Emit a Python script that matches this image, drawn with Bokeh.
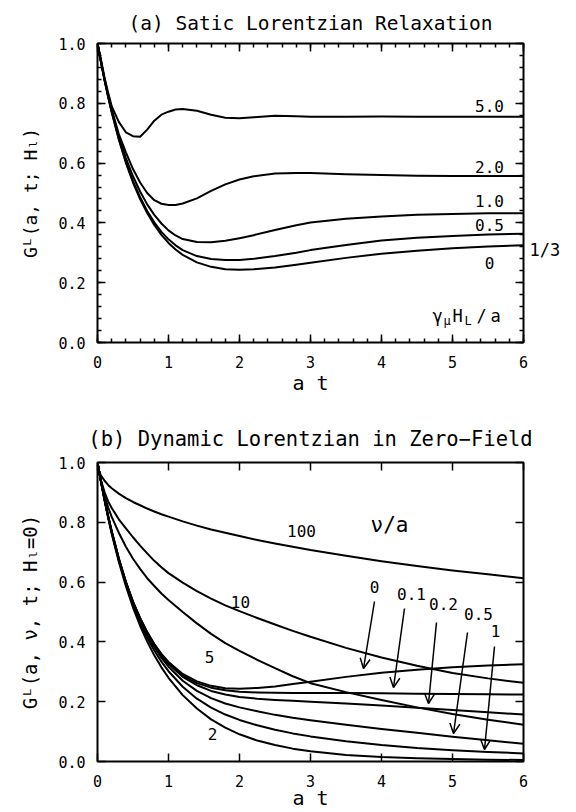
from bokeh.plotting import figure
from bokeh.layouts import column
from bokeh.models import (Range1d, LinearAxis, FixedTicker, Label, Arrow,
                          OpenHead, CustomJSTickFormatter)
from bokeh.embed import file_html
from bokeh.resources import INLINE

FONT = "DejaVu Sans Mono"

# ---------------- axis ticks ----------------
x_ticks = [0, 1, 2, 3, 4, 5, 6]
x_tick_labels = ["0", "1", "2", "3", "4", "5", "6"]
y_ticks = [0.0, 0.2, 0.4, 0.6, 0.8, 1.0]
y_tick_labels = ["0.0", "0.2", "0.4", "0.6", "0.8", "1.0"]

# ---------------- panel (a): static Lorentzian, longitudinal field ----------------
t_a = [0, 0.05, 0.1, 0.15, 0.2, 0.3, 0.4, 0.5, 0.6, 0.7, 0.8, 0.9, 1.0, 1.1, 1.2,
       1.4, 1.6, 1.8, 2.0, 2.2, 2.5, 2.8, 3.0, 3.5, 4.0, 4.5, 5.0, 5.5, 6.0]
ga_0 = [1.0, 0.936, 0.876, 0.821, 0.770, 0.679, 0.601, 0.535, 0.480, 0.433, 0.393, 0.360,
        0.333, 0.311, 0.293, 0.268, 0.253, 0.245, 0.243, 0.245, 0.251, 0.260, 0.267, 0.283,
        0.297, 0.307, 0.315, 0.321, 0.325]
ga_05 = [1.0, 0.937, 0.877, 0.823, 0.772, 0.682, 0.605, 0.540, 0.486, 0.440, 0.402, 0.370,
         0.345, 0.325, 0.309, 0.289, 0.279, 0.276, 0.276, 0.280, 0.289, 0.300, 0.309, 0.326,
         0.341, 0.350, 0.356, 0.361, 0.364]
ga_10 = [1.0, 0.938, 0.879, 0.826, 0.776, 0.690, 0.617, 0.556, 0.505, 0.462, 0.427, 0.398,
         0.375, 0.358, 0.346, 0.336, 0.335, 0.340, 0.349, 0.359, 0.376, 0.392, 0.401, 0.414,
         0.421, 0.427, 0.430, 0.432, 0.432]
ga_20 = [1.0, 0.940, 0.880, 0.828, 0.780, 0.697, 0.636, 0.580, 0.535, 0.500, 0.476, 0.464,
         0.460, 0.460, 0.465, 0.482, 0.507, 0.529, 0.545, 0.556, 0.565, 0.567, 0.567, 0.563,
         0.560, 0.558, 0.557, 0.557, 0.557]
ga_50 = [1.0, 0.945, 0.885, 0.835, 0.790, 0.738, 0.703, 0.690, 0.688, 0.712, 0.742, 0.762,
         0.772, 0.779, 0.781, 0.775, 0.762, 0.752, 0.750, 0.753, 0.758, 0.757, 0.755, 0.755,
         0.756, 0.755, 0.755, 0.755, 0.755]
field_labels = ["5.0", "2.0", "1.0", "0.5", "0"]
asymptote_label = "1/3"

# ---------------- panel (b): dynamic Lorentzian, zero field ----------------
t_b = [0, 0.02, 0.05, 0.1, 0.15, 0.2, 0.3, 0.4, 0.5, 0.6, 0.7, 0.8, 0.9, 1.0, 1.2,
       1.4, 1.6, 1.8, 2.0, 2.25, 2.5, 2.75, 3.0, 3.5, 4.0, 4.5, 5.0, 5.5, 6.0]
gb_100 = [1.0, 0.972, 0.956, 0.939, 0.925, 0.914, 0.896, 0.881, 0.868, 0.857, 0.846, 0.836,
          0.827, 0.819, 0.803, 0.789, 0.776, 0.765, 0.754, 0.741, 0.729, 0.718, 0.707, 0.688,
          0.670, 0.654, 0.639, 0.626, 0.613]
gb_10 = [1.0, 0.974, 0.940, 0.900, 0.870, 0.848, 0.810, 0.780, 0.750, 0.722, 0.696, 0.671,
         0.650, 0.630, 0.598, 0.570, 0.545, 0.522, 0.503, 0.480, 0.458, 0.437, 0.417, 0.380,
         0.348, 0.320, 0.296, 0.278, 0.263]
gb_5 = [1.0, 0.974, 0.937, 0.888, 0.850, 0.818, 0.765, 0.718, 0.678, 0.644, 0.613, 0.587,
        0.562, 0.540, 0.500, 0.462, 0.427, 0.396, 0.370, 0.340, 0.312, 0.285, 0.262, 0.232,
        0.206, 0.181, 0.159, 0.140, 0.123]
gb_0 = [1.0, 0.974, 0.936, 0.876, 0.821, 0.770, 0.679, 0.601, 0.535, 0.480, 0.433, 0.393,
        0.360, 0.333, 0.293, 0.268, 0.253, 0.245, 0.243, 0.246, 0.251, 0.259, 0.267, 0.283,
        0.297, 0.307, 0.315, 0.321, 0.325]
gb_01 = [1.0, 0.974, 0.936, 0.876, 0.821, 0.770, 0.679, 0.600, 0.534, 0.479, 0.432, 0.392,
         0.358, 0.331, 0.288, 0.262, 0.247, 0.238, 0.233, 0.231, 0.230, 0.229, 0.229, 0.229,
         0.228, 0.227, 0.226, 0.225, 0.224]
gb_02 = [1.0, 0.974, 0.936, 0.876, 0.820, 0.769, 0.678, 0.599, 0.532, 0.476, 0.428, 0.388,
         0.354, 0.326, 0.283, 0.255, 0.236, 0.224, 0.216, 0.210, 0.206, 0.203, 0.200, 0.194,
         0.187, 0.180, 0.172, 0.165, 0.157]
gb_05 = [1.0, 0.974, 0.935, 0.875, 0.819, 0.767, 0.676, 0.597, 0.529, 0.472, 0.423, 0.382,
         0.347, 0.317, 0.270, 0.236, 0.212, 0.194, 0.181, 0.168, 0.156, 0.146, 0.138, 0.123,
         0.109, 0.096, 0.083, 0.071, 0.059]
gb_1 = [1.0, 0.974, 0.935, 0.874, 0.818, 0.765, 0.673, 0.593, 0.524, 0.465, 0.414, 0.371,
        0.334, 0.302, 0.250, 0.210, 0.180, 0.157, 0.139, 0.121, 0.106, 0.094, 0.084, 0.068,
        0.055, 0.045, 0.038, 0.032, 0.027]
gb_2 = [1.0, 0.973, 0.934, 0.872, 0.815, 0.762, 0.668, 0.586, 0.515, 0.454, 0.401, 0.355,
        0.315, 0.280, 0.222, 0.177, 0.141, 0.113, 0.091, 0.070, 0.055, 0.043, 0.034, 0.022,
        0.015, 0.011, 0.008, 0.006, 0.005]
rate_line_labels = ["100", "10", "5", "2"]
rate_arrow_labels = ["0", "0.1", "0.2", "0.5", "1"]

# ---------------- layout helpers ----------------
FL, FR = 97, 523
XS = (FR - FL) / 6.0


def px_x(px):
    return (px - FL) / XS


def make_panel(ftop, fbot, x_minor, y_minor, title, title_size, title_standoff,
               ylabel, ylabel_size, xlabel_standoff, right_extra=None):
    p = figure(width=576, height=406, x_range=Range1d(0, 6), y_range=Range1d(0, 1),
               x_axis_type=None, y_axis_type=None, output_backend="svg",
               toolbar_location=None, min_border_left=FL, min_border_right=576 - FR,
               min_border_top=ftop, min_border_bottom=406 - fbot)
    p.outline_line_color = "black"
    p.outline_line_width = 2
    p.background_fill_color = "white"
    p.border_fill_color = "white"
    p.title.text = title
    p.title.align = "center"
    p.title.text_font = FONT
    p.title.text_font_style = "normal"
    p.title.text_font_size = title_size
    p.title.text_color = "black"
    p.title.standoff = title_standoff

    def style(ax, show, standoff):
        ax.axis_line_color = None
        ax.major_tick_in = 8
        ax.major_tick_out = 0
        ax.minor_tick_in = 4
        ax.minor_tick_out = 0
        ax.major_tick_line_width = 1.5
        ax.minor_tick_line_width = 1.5
        ax.major_tick_line_color = "black"
        ax.minor_tick_line_color = "black"
        ax.major_label_standoff = standoff
        if show:
            ax.major_label_text_font = FONT
            ax.major_label_text_font_size = "15px"
            ax.major_label_text_color = "black"
        else:
            ax.formatter = CustomJSTickFormatter(code="return ''")

    bx = LinearAxis(ticker=FixedTicker(ticks=x_ticks, minor_ticks=x_minor))
    style(bx, True, 13)
    bx.major_label_overrides = dict(zip(x_ticks, x_tick_labels))
    bx.axis_label = "a t"
    bx.axis_label_text_font = FONT
    bx.axis_label_text_font_style = "normal"
    bx.axis_label_text_font_size = "20px"
    bx.axis_label_text_color = "black"
    bx.axis_label_standoff = xlabel_standoff
    p.add_layout(bx, "below")

    ax_top = LinearAxis(ticker=FixedTicker(ticks=x_ticks, minor_ticks=x_minor))
    style(ax_top, False, 0)
    p.add_layout(ax_top, "above")

    ly = LinearAxis(ticker=FixedTicker(ticks=y_ticks, minor_ticks=y_minor))
    style(ly, True, 12)
    ly.major_label_overrides = dict(zip(y_ticks, y_tick_labels))
    ly.axis_label = ylabel
    ly.axis_label_text_font = FONT
    ly.axis_label_text_font_style = "normal"
    ly.axis_label_text_font_size = ylabel_size
    ly.axis_label_text_color = "black"
    ly.axis_label_standoff = 14
    p.add_layout(ly, "left")

    ry = LinearAxis(ticker=FixedTicker(ticks=y_ticks, minor_ticks=y_minor))
    style(ry, False, 0)
    p.add_layout(ry, "right")

    if right_extra is not None:
        yv, txt = right_extra
        r2 = LinearAxis(ticker=FixedTicker(ticks=[yv]))
        r2.axis_line_color = None
        r2.major_tick_in = 0
        r2.major_tick_out = 0
        r2.major_tick_line_color = None
        r2.major_label_standoff = 6
        r2.major_label_overrides = {yv: txt}
        r2.major_label_text_font = FONT
        r2.major_label_text_font_size = "17px"
        r2.major_label_text_color = "black"
        p.add_layout(r2, "right")
    return p


def add_text(p, x, y, text, size, align="center", baseline="middle"):
    p.add_layout(Label(x=x, y=y, text=text, text_font=FONT, text_font_size=f"{size}px",
                       text_align=align, text_baseline=baseline, text_color="black"))


# =================== panel (a) ===================
A_TOP, A_BOT = 43, 342
pa = make_panel(A_TOP, A_BOT, [i * 0.2 for i in range(31)], [i * 0.04 for i in range(26)],
                "(a) Satic Lorentzian Relaxation", "19.5px", 17,
                "G\u1d38(a, t; H\u2097)", "18px", 0,
                right_extra=(0.31, asymptote_label))


def ya(py):
    return (A_BOT - py) / (A_BOT - A_TOP)


for g in (ga_0, ga_05, ga_10, ga_20, ga_50):
    pa.line(t_a, g, line_color="black", line_width=2, line_join="round")

for txt, py in zip(field_labels, [105, 166, 200, 224, 262]):
    add_text(pa, px_x(489), ya(py), txt, 16)
# gamma_mu H_L / a
add_text(pa, px_x(432), ya(315), "\u03b3", 17, align="left")
add_text(pa, px_x(443), ya(320), "\u03bc", 12, align="left")
add_text(pa, px_x(452), ya(315), "H", 17, align="left")
add_text(pa, px_x(464), ya(320), "L", 12, align="left")
add_text(pa, px_x(476), ya(315), "/", 17, align="left")
add_text(pa, px_x(490), ya(315), "a", 17, align="left")

# =================== panel (b) ===================
B_TOP, B_BOT = 56, 355
pb = make_panel(B_TOP, B_BOT, [], [],
                "(b) Dynamic Lorentzian in Zero\u2212Field", "20.5px", 24,
                "G\u1d38(a, \u03bd, t; H\u2097=0)", "19px", -4)


def yb(py):
    return (B_BOT - py) / (B_BOT - B_TOP)


for g in (gb_100, gb_10, gb_5, gb_0, gb_01, gb_02, gb_05, gb_1, gb_2):
    pb.line(t_b, g, line_color="black", line_width=2, line_join="round")

add_text(pb, px_x(389), yb(118), "\u03bd/a", 21)
for txt, (px, py) in zip(rate_line_labels, [(301, 124), (240, 195), (209, 250), (212, 327)]):
    add_text(pb, px_x(px), yb(py), txt, 16)

arrow_geom = [((374, 180), (374, 195), (363, 262)),
              ((411, 187), (404, 202), (393, 281)),
              ((443, 197), (436, 216), (428, 297)),
              ((478, 207), (467, 226), (453, 327)),
              ((495, 224), (494, 240), (484, 343))]
for txt, (lab, st, en) in zip(rate_arrow_labels, arrow_geom):
    add_text(pb, px_x(lab[0]), yb(lab[1]), txt, 16)
    pb.add_layout(Arrow(x_start=px_x(st[0]), y_start=yb(st[1]),
                        x_end=px_x(en[0]), y_end=yb(en[1]),
                        line_width=1.5, line_color="black",
                        end=OpenHead(size=10, line_width=1.5, line_color="black")))

layout = column(pa, pb, spacing=0)
open("out.html", "w").write(file_html(layout, INLINE))
